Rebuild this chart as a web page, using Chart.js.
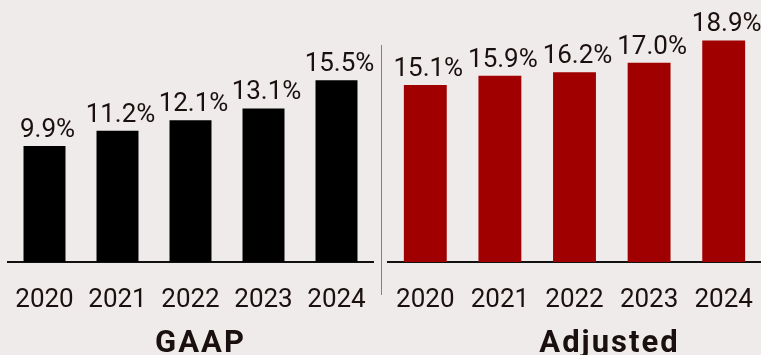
<!DOCTYPE html>
<html>
<head>
<meta charset="utf-8">
<script src="https://cdn.jsdelivr.net/npm/chart.js@4/dist/chart.umd.min.js"></script>
<style>
  html, body { margin: 0; padding: 0; background: #efebea; }
  #wrap { position: relative; width: 761px; height: 355px; overflow: hidden; }
  canvas { position: absolute; top: 0; }
  #gaap { left: 0; }
  #adjusted { left: 382px; }
  #divider { position: absolute; left: 380.5px; top: 45px; width: 1.5px; height: 250px; background: #858181; }
  .caption { position: absolute; top: 326px; font: bold 31px Roboto, sans-serif; line-height: 31px;
             letter-spacing: 2px; color: #1a1010; transform: translateX(-50%); white-space: nowrap; }
</style>
</head>
<body>
<div id="wrap">
  <canvas id="gaap" width="381" height="355"></canvas>
  <canvas id="adjusted" width="379" height="355"></canvas>
  <div id="divider"></div>
  <div class="caption" style="left:200.5px">GAAP</div>
  <div class="caption" style="left:609.5px">Adjusted</div>
</div>
<script>
const years = ['2020', '2021', '2022', '2023', '2024'];
const gaapMargin = [9.9, 11.2, 12.1, 13.1, 15.5];
const adjustedMargin = [15.1, 15.9, 16.2, 17.0, 18.9];

const textColor = '#1a1010';

// percentage printed above every bar
const valueLabels = {
  id: 'valueLabels',
  afterDatasetsDraw(chart) {
    const ctx = chart.ctx;
    const values = chart.data.datasets[0].data;
    ctx.save();
    ctx.font = '26px Roboto';
    ctx.fillStyle = textColor;
    ctx.textAlign = 'center';
    ctx.textBaseline = 'alphabetic';
    chart.getDatasetMeta(0).data.forEach((bar, i) => {
      ctx.fillText(values[i].toFixed(1) + '%', bar.x + 3, bar.y - 9);
    });
    ctx.restore();
  }
};

function marginChart(id, values, color, padLeft, padRight) {
  return new Chart(document.getElementById(id), {
    type: 'bar',
    data: {
      labels: years,
      datasets: [{
        data: values,
        backgroundColor: color,
        barPercentage: 0.575,
        categoryPercentage: 1
      }]
    },
    options: {
      responsive: false,
      animation: false,
      layout: { padding: { left: padLeft, right: padRight, top: 27.6, bottom: 0 } },
      plugins: { legend: { display: false }, tooltip: { enabled: false } },
      scales: {
        x: {
          grid: { display: true, drawOnChartArea: false, drawTicks: false },
          border: { display: true, color: '#111111', width: 2 },
          ticks: { color: textColor, font: { family: 'Roboto', size: 26 }, padding: 23, maxRotation: 0, autoSkip: false },
          afterFit(scale) {
            // keep the axis flush with the layout padding
            scale.height = 93;
            scale.paddingLeft = 0;
            scale.paddingRight = 0;
          }
        },
        y: { display: false, min: 0, max: 20 }
      }
    },
    plugins: [valueLabels]
  });
}

marginChart('gaap', gaapMargin, '#000000', 8, 8);
marginChart('adjusted', adjustedMargin, '#a10000', 6, 0);
</script>
</body>
</html>
